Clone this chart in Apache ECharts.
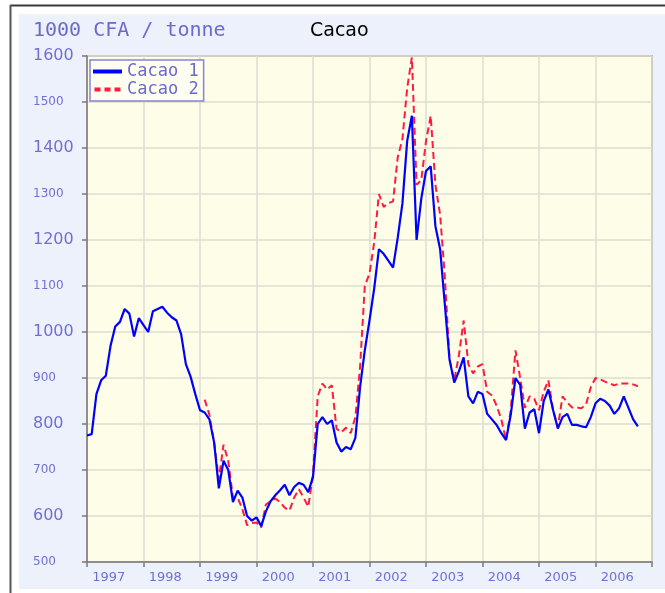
<!DOCTYPE html>
<html>
<head>
<meta charset="utf-8">
<script src="https://cdn.jsdelivr.net/npm/echarts@6/dist/echarts.min.js"></script>
<style>
  html, body { margin: 0; padding: 0; background: #ffffff; }
  #chart { width: 665px; height: 593px; }
</style>
</head>
<body>
<div id="chart"></div>
<script>
// year labels on the x axis
const years = ['1997', '1998', '1999', '2000', '2001', '2002', '2003', '2004', '2005', '2006']
const firstYear = 1997
const lastYear = 2007
const yMin = 500
const yMax = 1600

// Cacao 1, monthly from jan 1997
const cacao1 = [
  775, 778, 865, 895, 905, 970, 1012, 1022, 1050, 1040,
  990, 1030, 1015, 1000, 1045, 1050, 1055, 1042, 1032, 1025,
  995, 930, 903, 865, 830, 825, 810, 760, 660, 720,
  700, 630, 655, 640, 600, 590, 597, 578, 610, 632,
  645, 656, 668, 645, 663, 672, 668, 652, 685, 800,
  815, 800, 808, 760, 740, 750, 745, 770, 880, 960,
  1025, 1095, 1180, 1170, 1155, 1140, 1205, 1280, 1415, 1470,
  1200, 1290, 1350, 1360, 1230, 1180, 1060, 940, 890, 915,
  945, 860, 845, 870, 865, 822, 810, 798, 780, 765,
  820, 900, 885, 790, 825, 832, 780, 850, 875, 830,
  790, 815, 822, 798, 798, 795, 793, 815, 845, 855,
  850, 840, 822, 834, 860, 835, 810, 795
]

// Cacao 2, monthly, starts in feb 1999
const cacao2Offset = 25
const cacao2 = [
  853, 820, 760, 680, 755, 720, 640, 640, 615, 580,
  585, 586, 575, 625, 632, 638, 630, 618, 612, 640,
  658, 640, 620, 690, 860, 888, 875, 884, 790, 782,
  792, 780, 815, 925, 1100, 1127, 1195, 1300, 1272, 1280,
  1284, 1380, 1420, 1530, 1597, 1320, 1330, 1415, 1470, 1320,
  1255, 1120, 940, 895, 950, 1025, 930, 910, 925, 930,
  870, 862, 840, 810, 765, 830, 960, 900, 835, 860,
  855, 830, 870, 895, 830, 793, 860, 847, 836, 836,
  834, 843, 880, 900, 897, 892, 888, 884, 888, 888,
  888, 886, 882
]

const labelColor = '#7070d4'
const monthToYear = i => firstYear + i / 12

const chart = echarts.init(document.getElementById('chart'))

const option = {
  backgroundColor: '#ffffff',
  animation: false,
  graphic: [
    // light blue panel
    { type: 'rect', z: -100, shape: { x: 19, y: 14, width: 646, height: 575 }, style: { fill: '#edf1fb' } },
    // frame lines
    { type: 'line', z: -90, shape: { x1: 10, y1: 5.5, x2: 665, y2: 5.5 }, style: { stroke: '#3a3a3a', lineWidth: 2 } },
    { type: 'line', z: -90, shape: { x1: 10.5, y1: 5, x2: 10.5, y2: 593 }, style: { stroke: '#555555', lineWidth: 2 } }
  ],
  title: [
    {
      text: '1000 CFA / tonne',
      left: 33, top: 21, padding: 0,
      textStyle: { fontFamily: 'DejaVu Sans Mono', fontSize: 20, fontWeight: 'normal', color: '#6a6acc' }
    },
    {
      text: 'Cacao',
      left: 310, top: 22, padding: 0,
      textStyle: { fontFamily: 'DejaVu Sans', fontSize: 19, fontWeight: 'normal', color: '#000000' }
    }
  ],
  legend: {
    orient: 'vertical',
    left: 90, top: 60,
    padding: [3, 5, 3, 3],
    itemGap: 1,
    itemWidth: 29,
    itemHeight: 4,
    backgroundColor: '#fdfdf0',
    borderColor: '#8484da',
    borderWidth: 1.5,
    borderRadius: 0,
    textStyle: { fontFamily: 'DejaVu Sans Mono', fontSize: 17, color: '#6a6acc' },
    data: [
      { name: 'Cacao 1', icon: 'path://M0,0h29v4h-29z' },
      { name: 'Cacao 2', icon: 'path://M0,0h6v4h-6zM10,0h6v4h-6zM20,0h6v4h-6z' }
    ]
  },
  grid: {
    left: 87, top: 56, right: 13, bottom: 31,
    show: true,
    backgroundColor: '#fdfde8',
    borderColor: '#8a8a8a',
    borderWidth: 1.5
  },
  xAxis: [
    {
      type: 'value',
      min: firstYear, max: lastYear, interval: 1,
      axisLine: { show: true, lineStyle: { color: '#7a7a7a', width: 1.5 } },
      axisTick: { show: false },
      axisLabel: { show: false },
      splitLine: { show: true, lineStyle: { color: '#dedcd2', width: 1.5 } }
    },
    {
      type: 'category',
      position: 'bottom',
      data: years,
      boundaryGap: true,
      axisLine: { show: false },
      axisTick: { show: true, length: 5, lineStyle: { color: '#7a7a7a', width: 1.5 } },
      axisLabel: {
        color: labelColor, fontFamily: 'DejaVu Sans', fontSize: 13,
        margin: 9, padding: [0, 13, 0, 0]
      },
      splitLine: { show: false }
    }
  ],
  yAxis: {
    type: 'value',
    min: yMin, max: yMax, interval: 100,
    axisLine: { show: true, lineStyle: { color: '#7a7a7a', width: 1.5 } },
    axisTick: { show: true, length: 5, lineStyle: { color: '#7a7a7a', width: 1.5 } },
    splitLine: { show: true, lineStyle: { color: '#dedcd2', width: 1.5 } },
    axisLabel: {
      align: 'left',
      margin: 54,
      formatter: v => (v % 200 === 0 ? '{big|' + v + '}' : '{small|' + v + '}'),
      rich: {
        big: { fontFamily: 'DejaVu Sans', fontSize: 16, color: labelColor },
        small: { fontFamily: 'DejaVu Sans', fontSize: 12, color: labelColor }
      }
    }
  },
  series: [
    {
      name: 'Cacao 1',
      type: 'line',
      xAxisIndex: 0,
      z: 4,
      symbol: 'none',
      color: '#0000ff',
      lineStyle: { color: '#0000ff', width: 2.2 },
      data: cacao1.map((v, i) => [monthToYear(i), v])
    },
    {
      name: 'Cacao 2',
      type: 'line',
      xAxisIndex: 0,
      z: 3,
      symbol: 'none',
      color: '#ff1a40',
      lineStyle: { color: '#ff1a40', width: 2, type: [7, 4] },
      data: cacao2.map((v, i) => [monthToYear(i + cacao2Offset), v])
    }
  ]
}

chart.setOption(option)
</script>
</body>
</html>
